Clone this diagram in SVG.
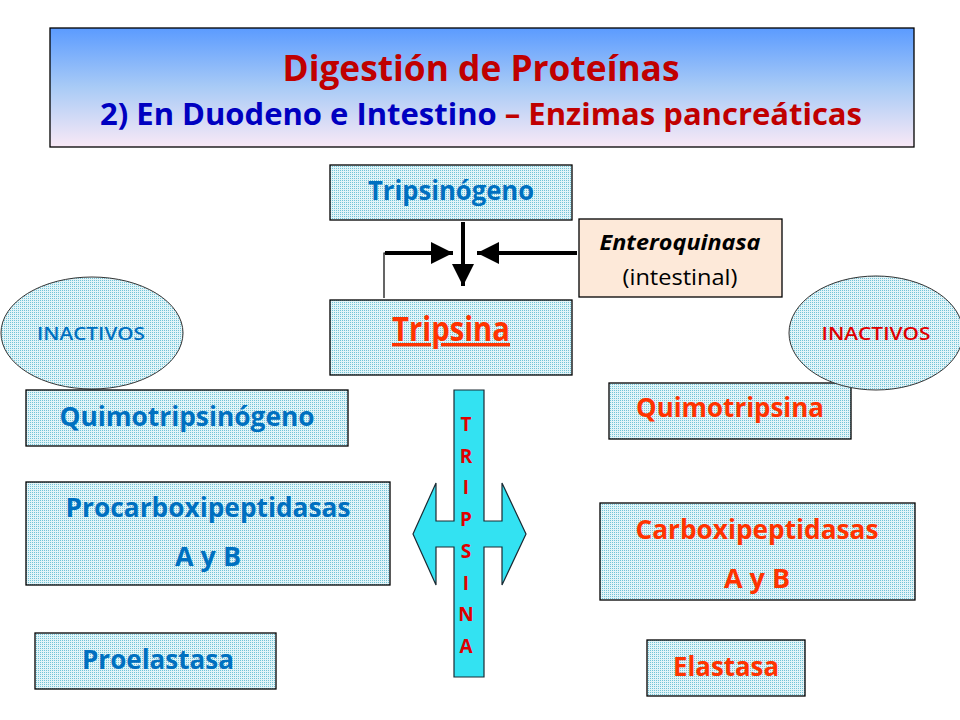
<svg xmlns="http://www.w3.org/2000/svg" width="960" height="720" viewBox="0 0 960 720">
<defs>
<linearGradient id="tg" x1="0" y1="0" x2="0" y2="1">
<stop offset="0" stop-color="#5b9bff"/>
<stop offset="0.5" stop-color="#a9cbf6"/>
<stop offset="1" stop-color="#f9e9f6"/>
</linearGradient>
<pattern id="dots" width="2" height="2" patternUnits="userSpaceOnUse">
<rect width="2" height="2" fill="#e2f4f8"/>
<rect width="1" height="1" fill="#72c4d6"/>
</pattern>
<marker id="ah" viewBox="0 0 10 10" refX="10" refY="5" markerWidth="5.5" markerHeight="5.5" markerUnits="strokeWidth" orient="auto">
<path d="M0,0 L10,5 L0,10 z" fill="#000"/>
</marker>
</defs>
<style>
.box{fill:url(#dots);stroke:#000;stroke-width:1.3}
.t{font-family:"Open Sans","Noto Sans",sans-serif;font-weight:bold;font-size:26px;text-anchor:middle}
.big{font-size:34px;text-decoration:underline}
.blue{fill:#0070c0}
.red{fill:#ff3300}
.ell{fill:url(#dots);stroke:#333;stroke-width:1}
.inac{font-family:"Open Sans","Noto Sans",sans-serif;font-weight:600;font-size:18px;text-anchor:middle}
.conn{stroke:#000;fill:none}
</style>
<rect width="960" height="720" fill="#fff"/>

<g id="title">
<rect x="50" y="28" width="864" height="119" fill="url(#tg)" stroke="#000" stroke-width="1.3"/>
<text x="481" y="81" font-family="Open Sans, Noto Sans, sans-serif" font-weight="bold" font-size="36" text-anchor="middle" fill="#c00000" textLength="397" lengthAdjust="spacingAndGlyphs">Digestión de Proteínas</text>
<text x="481" y="125" font-family="Open Sans, Noto Sans, sans-serif" font-weight="bold" font-size="31" text-anchor="middle" textLength="762" lengthAdjust="spacingAndGlyphs"><tspan fill="#0000c0">2) En Duodeno e Intestino </tspan><tspan fill="#c00000">– Enzimas pancreáticas</tspan></text>
</g>

<g id="tripsinogeno">
<rect class="box" x="330" y="165" width="242" height="55"/>
<text class="t blue" x="451" y="200" textLength="166" lengthAdjust="spacingAndGlyphs">Tripsinógeno</text>
</g>

<g id="enteroquinasa">
<rect x="579" y="219" width="203" height="78" fill="#fde9d9" stroke="#000" stroke-width="1.3"/>
<text x="680" y="250" font-family="Open Sans, Noto Sans, sans-serif" font-weight="bold" font-style="italic" font-size="22" text-anchor="middle" fill="#000" textLength="161" lengthAdjust="spacingAndGlyphs">Enteroquinasa</text>
<text x="680" y="285" font-family="Open Sans, Noto Sans, sans-serif" font-size="22" text-anchor="middle" fill="#000" textLength="115" lengthAdjust="spacingAndGlyphs">(intestinal)</text>
</g>

<g id="tripsina">
<rect class="box" x="330" y="300" width="242" height="75"/>
<text class="t big red" x="451" y="341" textLength="118" lengthAdjust="spacingAndGlyphs">Tripsina</text>
</g>

<g id="connectors">
<line class="conn" x1="463" y1="222" x2="463" y2="286" stroke-width="4" marker-end="url(#ah)"/>
<polyline class="conn" points="384,298 384,253 388,253" stroke-width="1.2"/>
<line class="conn" x1="385" y1="253" x2="453" y2="253" stroke-width="4" marker-end="url(#ah)"/>
<line class="conn" x1="577" y1="253" x2="477" y2="253" stroke-width="4" marker-end="url(#ah)"/>
</g>

<g id="inactivos-left">
<ellipse class="ell" cx="92" cy="333" rx="91" ry="56"/>
<text class="inac" x="91" y="340" fill="#0070c0" textLength="108" lengthAdjust="spacingAndGlyphs">INACTIVOS</text>
</g>

<g id="quimotripsinogeno">
<rect class="box" x="26" y="390" width="322" height="56"/>
<text class="t blue" x="187" y="426" textLength="255" lengthAdjust="spacingAndGlyphs">Quimotripsinógeno</text>
</g>

<g id="procarboxipeptidasas">
<rect class="box" x="26" y="482" width="364" height="103"/>
<text class="t blue" x="208" y="517" textLength="285" lengthAdjust="spacingAndGlyphs">Procarboxipeptidasas</text>
<text class="t blue" x="208" y="566" textLength="66" lengthAdjust="spacingAndGlyphs">A y B</text>
</g>

<g id="proelastasa">
<rect class="box" x="35" y="633" width="241" height="56"/>
<text class="t blue" x="158" y="669" textLength="152" lengthAdjust="spacingAndGlyphs">Proelastasa</text>
</g>

<g id="quimotripsina">
<rect class="box" x="609" y="383" width="242" height="56"/>
<text class="t red" x="730" y="417" textLength="188" lengthAdjust="spacingAndGlyphs">Quimotripsina</text>
</g>

<g id="inactivos-right">
<ellipse class="ell" cx="876" cy="333" rx="87" ry="57"/>
<text class="inac" x="876" y="340" fill="#e00000" textLength="109" lengthAdjust="spacingAndGlyphs">INACTIVOS</text>
</g>

<g id="carboxipeptidasas">
<rect class="box" x="600" y="503" width="315" height="97"/>
<text class="t red" x="757" y="539" textLength="243" lengthAdjust="spacingAndGlyphs">Carboxipeptidasas</text>
<text class="t red" x="757" y="588" textLength="66" lengthAdjust="spacingAndGlyphs">A y B</text>
</g>

<g id="elastasa">
<rect class="box" x="647" y="640" width="158" height="56"/>
<text class="t red" x="726" y="676" textLength="106" lengthAdjust="spacingAndGlyphs">Elastasa</text>
</g>

<g id="tripsina-arrow">
<path d="M454,390 L484,390 L484,521 L502,521 L502,483 L526,534 L502,585 L502,547 L484,547 L484,677 L454,677 L454,547 L436,547 L436,585 L413,534 L436,483 L436,521 L454,521 Z" fill="#33e2f2" stroke="#1a2a33" stroke-width="1.2"/>
<g font-family="Open Sans, Noto Sans, sans-serif" font-weight="bold" font-size="19" fill="#e00000" text-anchor="middle">
<text x="466" y="431">T</text>
<text x="466" y="463">R</text>
<text x="466" y="494">I</text>
<text x="466" y="526">P</text>
<text x="466" y="558">S</text>
<text x="466" y="590">I</text>
<text x="466" y="621">N</text>
<text x="466" y="653">A</text>
</g>
</g>
</svg>
